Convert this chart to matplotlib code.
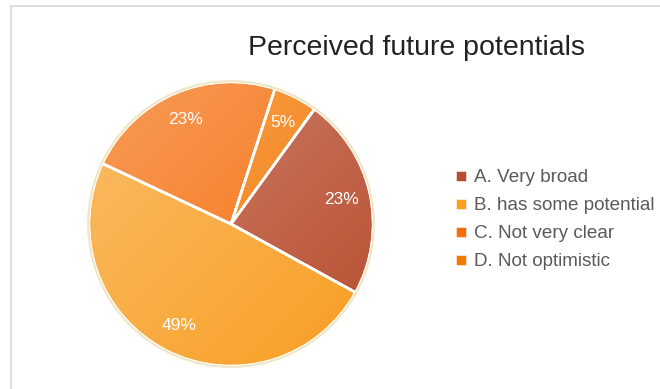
import numpy as np
import matplotlib.pyplot as plt
from matplotlib.patches import Circle
from matplotlib.lines import Line2D

plt.rcParams['font.family'] = ['Liberation Sans', 'DejaVu Sans']

# data
labels = ["A. Very broad", "B. has some potential", "C. Not very clear", "D. Not optimistic"]
shares = [23, 49, 23, 5]
colors = ["#b84d2f", "#f89e22", "#f56e0c", "#f47a06"]
title = "Perceived future potentials"

fig = plt.figure(figsize=(6.6, 3.89), dpi=100)

# light gray frame at top and left, like the screenshot
fig.add_artist(Line2D([11/660, 1], [1 - 6/389, 1 - 6/389], color="#d9d9d9", lw=1.2))
fig.add_artist(Line2D([11/660, 11/660], [0, 1 - 6/389], color="#d9d9d9", lw=1.2))

ax = fig.add_axes([86/660, 20/389, 290/660, 290/389])
wedges, texts, autotexts = ax.pie(
    shares, colors=colors, startangle=54, counterclock=False,
    autopct="%d%%", pctdistance=0.8, radius=1.0,
    wedgeprops=dict(edgecolor="white", linewidth=1.8),
    textprops=dict(color="white", fontsize=12.5))
for t in autotexts:
    t.set_zorder(5)

# soft diagonal shading: white veil, strongest top-left, gone bottom-right
n = 200
yy, xx = np.mgrid[0:n, 0:n] / (n - 1)
g = (xx + yy) / 2
shade = np.ones((n, n, 4))
shade[..., 3] = (1 - g) * 0.32
im = ax.imshow(shade, extent=[-1, 1, -1, 1], origin="upper", zorder=2,
               interpolation="bilinear")
im.set_clip_path(Circle((0, 0), 1.0, transform=ax.transData))

# white separators on top of the shading, plus a faint cream rim
ax.pie(shares, startangle=54, counterclock=False, radius=1.0,
       wedgeprops=dict(facecolor="none", edgecolor="white", linewidth=1.8, zorder=3))
ax.add_patch(Circle((0, 0), 1.005, fill=False, edgecolor="#efe6c4", lw=1.5, zorder=3))

ax.set_xlim(-1.02, 1.02)
ax.set_ylim(-1.02, 1.02)
ax.set_aspect("equal")
ax.axis("off")

fig.text(417/660, 1 - 48/389, title, fontsize=20.5, color="#222222",
         ha="center", va="center")

fig.legend(wedges, labels, loc="upper left", bbox_to_anchor=(446/660, 1 - 160/389),
           frameon=False, fontsize=13.6, labelcolor="#5a5a5a",
           handlelength=0.62, handleheight=0.62, handletextpad=0.35,
           labelspacing=0.58, borderpad=0)

fig.savefig("out.png", dpi=100)
